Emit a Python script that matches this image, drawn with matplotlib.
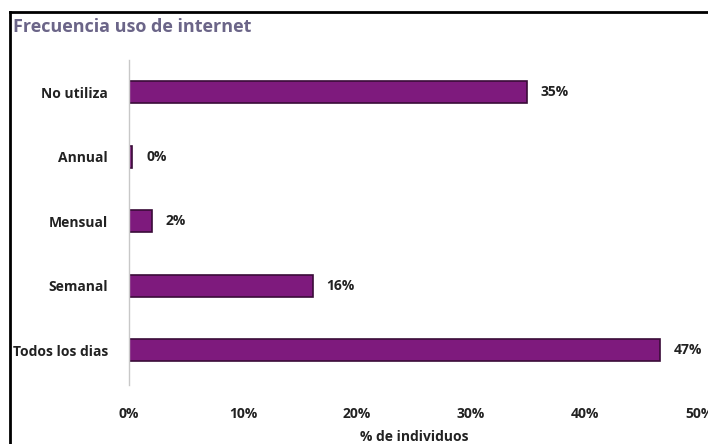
import matplotlib
matplotlib.use("Agg")
import matplotlib.pyplot as plt
from matplotlib.lines import Line2D

plt.rcParams['font.family'] = ['Open Sans', 'DejaVu Sans']

# frecuencia de uso, de abajo hacia arriba
categorias = ['Todos los dias', 'Semanal', 'Mensual', 'Annual', 'No utiliza']
porcentajes = [46.6, 16.1, 2.0, 0.3, 34.9]
ticks_x = [0, 10, 20, 30, 40, 50]

color_barra = '#7e1a7d'
color_borde = '#3a0c38'

fig = plt.figure(figsize=(7.08, 4.44), dpi=100)
ax = fig.add_axes([0.1822, 0.1329, 0.8051, 0.7320])

ax.barh(range(len(categorias)), porcentajes, height=0.34,
        color=color_barra, edgecolor=color_borde, linewidth=1.2)

for i, v in enumerate(porcentajes):
    ax.text(v + 1.2, i, '%.0f%%' % v, va='center', ha='left',
            fontsize=10, fontweight='bold', color='#222222')

ax.set_xlim(0, 50)
ax.set_ylim(-0.54, 4.5)
ax.set_xticks(ticks_x)
ax.set_xticklabels(['%d%%' % t for t in ticks_x], fontsize=10,
                   fontweight='bold', color='#222222')
ax.set_yticks(range(len(categorias)))
ax.set_yticklabels(categorias, fontsize=10, fontweight='bold', color='#222222')
ax.tick_params(axis='both', length=0)
ax.tick_params(axis='x', pad=16)
ax.tick_params(axis='y', pad=15)

for s in ['top', 'right', 'bottom']:
    ax.spines[s].set_visible(False)
ax.spines['left'].set_color('#c8c8c8')
ax.spines['left'].set_linewidth(1)

ax.set_xlabel('% de individuos', fontsize=10, fontweight='bold',
              color='#222222', labelpad=6)

fig.text(0.018, 0.94, 'Frecuencia uso de internet', fontsize=13,
         fontweight='bold', color='#6b6588', ha='left', va='center')

# marco superior e izquierdo
fig.add_artist(Line2D([10 / 708, 1], [1 - 12 / 444] * 2, color='black', lw=2))
fig.add_artist(Line2D([10 / 708] * 2, [0, 1 - 12 / 444], color='black', lw=2))

fig.savefig('out.png', dpi=100)
